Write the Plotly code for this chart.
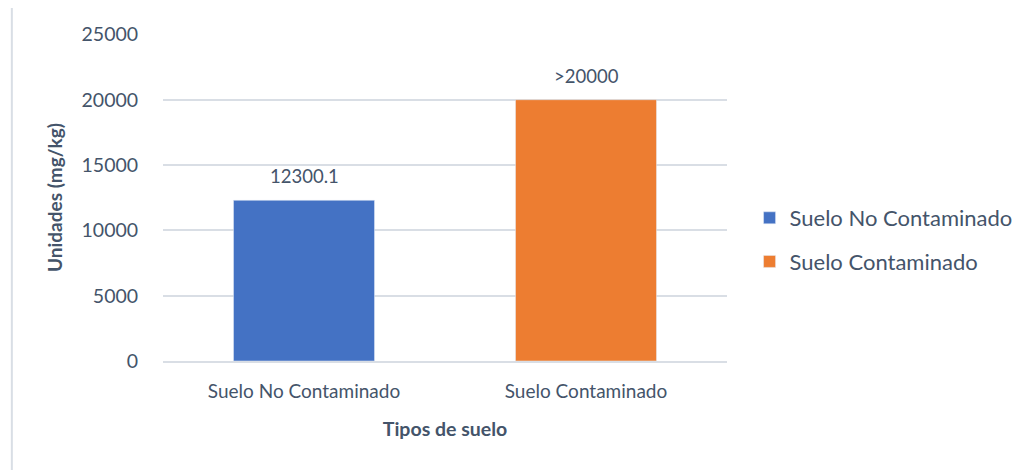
import plotly.graph_objects as go

# soil types and measured values (mg/kg)
categories = ["Suelo No Contaminado", "Suelo Contaminado"]
values = [12300.1, 20000]
labels = ["12300.1", ">20000"]
colors = ["#4472C4", "#ED7D31"]

txt = "#44546A"
font_family = "Lato"

fig = go.Figure()

for i in range(len(categories)):
    fig.add_trace(go.Bar(
        x=[categories[i]],
        y=[values[i]],
        name=categories[i],
        marker_color=colors[i],
        width=0.5,
        legendgroup=str(i),
    ))
    # value label above each bar
    fig.add_annotation(
        x=categories[i], y=values[i], text=labels[i],
        showarrow=False, yanchor="bottom", yshift=11,
        font=dict(size=18.5, color=txt, family=font_family),
    )

# page body adds an 8px offset, so the figure is drawn a bit smaller
fig.update_layout(
    width=1022, height=462,
    margin=dict(l=155, r=286, t=26, b=109),
    plot_bgcolor="white",
    paper_bgcolor="white",
    barmode="overlay",
    font=dict(family=font_family, size=19, color=txt),
    showlegend=True,
    legend=dict(
        x=1.04, y=0.37, xanchor="left", yanchor="middle",
        font=dict(size=22, color=txt),
        traceorder="grouped", tracegroupgap=12,
        itemwidth=30,
    ),
    xaxis=dict(
        title=dict(text="<b>Tipos de suelo</b>", font=dict(size=19.5, color=txt), standoff=22),
        showline=True, linecolor="#D9DEE5", linewidth=1.5,
        ticks="outside", ticklen=12, tickcolor="rgba(0,0,0,0)",
        tickfont=dict(size=19, color=txt),
    ),
    yaxis=dict(
        title=dict(text="<b>Unidades (mg/kg)</b>", font=dict(size=19, color=txt), standoff=13),
        range=[0, 25030], dtick=5000, tickformat="d",
        showgrid=True, gridcolor="#D9DEE5", gridwidth=1.5,
        zeroline=False,
        ticks="outside", ticklen=20, tickcolor="rgba(0,0,0,0)",
        tickfont=dict(size=19.5, color=txt),
    ),
    shapes=[
        # outer chart border (top and left edges visible)
        dict(type="rect", xref="paper", yref="paper",
             x0=-0.268, x1=1.53, y0=-0.35, y1=1.086,
             line=dict(color="#D9DEE5", width=2), layer="below"),
    ],
)

fig.write_html("out.html")
